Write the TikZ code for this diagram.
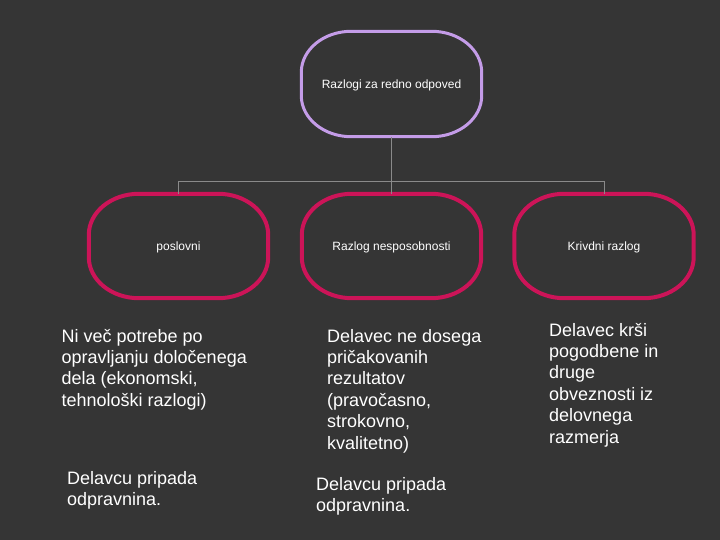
\documentclass[tikz,border=0pt]{standalone}
\usepackage{fontspec}
\usetikzlibrary{calc}
\setmainfont{Liberation Sans}
\definecolor{bg}{HTML}{353535}
\definecolor{lav}{HTML}{C49CE8}
\definecolor{crim}{HTML}{CC1458}
\definecolor{conn}{HTML}{8A8A8A}
\newcommand{\lines}[1]{\begin{tabular}[t]{@{}l@{}}#1\end{tabular}}
% oval with elliptical ends: R = 50 (horizontal), S = 41 (vertical)
\newcommand{\ovalshape}[2]{%
  \draw[#2]
    ($(#1.north west)+(50,0)$) -- ($(#1.north east)+(-50,0)$)
    .. controls ($(#1.north east)+(-22.4,0)$) and ($(#1.north east)+(0,18.4)$) .. ($(#1.north east)+(0,41)$)
    -- ($(#1.south east)+(0,-41)$)
    .. controls ($(#1.south east)+(0,-18.4)$) and ($(#1.south east)+(-22.4,0)$) .. ($(#1.south east)+(-50,0)$)
    -- ($(#1.south west)+(50,0)$)
    .. controls ($(#1.south west)+(22.4,0)$) and ($(#1.south west)+(0,-18.4)$) .. ($(#1.south west)+(0,-41)$)
    -- ($(#1.north west)+(0,41)$)
    .. controls ($(#1.north west)+(0,18.4)$) and ($(#1.north west)+(22.4,0)$) .. ($(#1.north west)+(50,0)$)
    -- cycle;}
\tikzset{
  ovalbox/.style={minimum width=179pt, minimum height=104pt, inner sep=0pt, text=white, font=\fontsize{12}{14}\selectfont, text height=8.6pt, text depth=0pt},
  topline/.style={draw=lav, line width=3pt},
  subline/.style={draw=crim, line width=4pt},
  body/.style={anchor=base west, inner sep=0pt, text=white, font=\fontsize{18}{21.4}\selectfont},
  link/.style={draw=conn, line width=1pt}
}
\begin{document}
\begin{tikzpicture}[x=1pt,y=-1pt]
\fill[bg] (0,0) rectangle (720,540);
\useasboundingbox (0,0) rectangle (720,540);
\node[ovalbox, minimum width=180pt, minimum height=105pt] (top) at (391.5,84) {Razlogi za redno odpoved};
\node[ovalbox] (l) at (178.5,246) {poslovni};
\node[ovalbox] (m) at (391.5,246) {Razlog nesposobnosti};
\node[ovalbox] (r) at (604,246) {Krivdni razlog};
\ovalshape{top}{topline}
\ovalshape{l}{subline}
\ovalshape{m}{subline}
\ovalshape{r}{subline}
\coordinate (bus) at (0,182);
\draw[link] (top.south) -- (m.north);
\draw[link] (l.north) -- (l.north |- bus) -- (r.north |- bus) -- (r.north);
\node[body] (lt1) at (61.5,342) {\lines{Ni več potrebe po\\opravljanju določenega\\dela (ekonomski,\\tehnološki razlogi)}};
\node[body] (lt2) at (67,484) {\lines{Delavcu pripada\\odpravnina.}};
\node[body] (mt1) at (327,342) {\lines{Delavec ne dosega\\pričakovanih\\rezultatov\\(pravočasno,\\strokovno,\\kvalitetno)}};
\node[body] (mt2) at (316,490) {\lines{Delavcu pripada\\odpravnina.}};
\node[body] (rt1) at (549,336) {\lines{Delavec krši\\pogodbene in\\druge\\obveznosti iz\\delovnega\\razmerja}};
\end{tikzpicture}
\end{document}
